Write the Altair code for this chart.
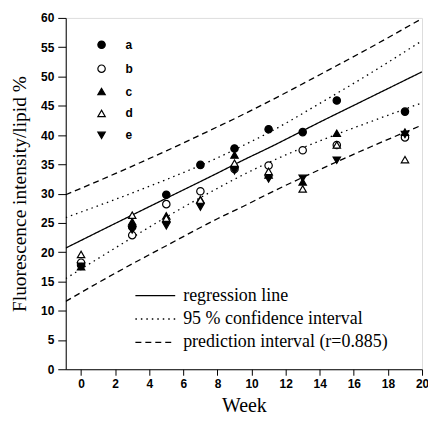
import altair as alt
import pandas as pd

# ---- data ----
weeks = [0, 3, 5, 7, 9, 11, 13, 15, 19]
series_a = [17.8, 24.3, 29.8, 34.9, 37.7, 41.0, 40.5, 45.9, 44.0]
series_b = [18.2, 22.9, 28.2, 30.4, 34.2, 34.8, 37.4, 38.3, 39.6]
series_c = [17.5, 25.2, 26.2, 29.0, 36.6, 33.2, 32.0, 40.3, 40.5]
series_d = [19.6, 26.3, 25.8, 28.9, 35.2, 33.8, 30.8, 38.3, 35.8]
series_e = [17.6, 23.8, 24.5, 27.7, 33.9, 32.5, 32.6, 35.7, 40.1]
series_names = ["a", "b", "c", "d", "e"]

band_weeks = [-0.9, 2, 5, 8, 9.5, 11, 14, 17, 20]
regression = [20.7, 24.9, 29.2, 33.5, 35.7, 37.8, 42.2, 46.5, 50.8]
ci_upper = [25.9, 29.0, 32.4, 36.1, 38.2, 40.4, 45.4, 50.6, 56.1]
ci_lower = [15.5, 20.7, 26.0, 30.9, 33.2, 35.3, 39.0, 42.3, 45.5]
pi_upper = [29.8, 33.4, 37.3, 41.4, 43.5, 45.7, 50.3, 55.0, 59.9]
pi_lower = [11.6, 16.4, 21.1, 25.7, 27.8, 30.0, 34.1, 38.0, 41.7]
line_kinds = ["regression line", "95 % confidence interval", "prediction interval (r=0.885)"]

x_ticks = list(range(0, 21, 2))
y_ticks = list(range(0, 61, 5))

# ---- tables ----
pts = []
for name, vals in zip(series_names, [series_a, series_b, series_c, series_d, series_e]):
    for w, v in zip(weeks, vals):
        pts.append({"week": w, "value": v, "series": name})
pts = pd.DataFrame(pts)

lines = []
for kind, part, vals in [
    (line_kinds[0], "reg", regression),
    (line_kinds[1], "ciu", ci_upper),
    (line_kinds[1], "cil", ci_lower),
    (line_kinds[2], "piu", pi_upper),
    (line_kinds[2], "pil", pi_lower),
]:
    for w, v in zip(band_weeks, vals):
        lines.append({"week": w, "value": v, "kind": kind, "part": part})
lines = pd.DataFrame(lines)

xscale = alt.Scale(domain=[-0.9, 20], nice=False, zero=False)
yscale = alt.Scale(domain=[0, 60], nice=False)

xaxis = alt.Axis(values=x_ticks, title="Week", grid=False, tickSize=6, labelPadding=3,
                 labelFont="Liberation Sans", labelFontWeight="bold", labelFontSize=12,
                 labelColor="black", titleFont="Liberation Serif", titleFontSize=20,
                 titleFontWeight="normal", titleColor="black", titlePadding=6,
                 domainColor="black", tickColor="black", labelFlush=False,
                 labelOverlap=False, labelBound=False)
yaxis = alt.Axis(values=y_ticks, title="Fluorescence intensity/lipid %", grid=False,
                 tickSize=8, labelPadding=4, labelFont="Liberation Sans",
                 labelFontWeight="bold", labelFontSize=12, labelColor="black",
                 titleFont="Liberation Serif", titleFontSize=19.5, titleFontWeight="normal",
                 titleColor="black", titlePadding=11, domainColor="black",
                 tickColor="black", labelFlush=False, labelOverlap=False)

line_layer = alt.Chart(lines).mark_line(color="black", strokeWidth=1.3, clip=True,
                                        interpolate="monotone").encode(
    x=alt.X("week:Q", scale=xscale, axis=xaxis),
    y=alt.Y("value:Q", scale=yscale, axis=yaxis),
    strokeDash=alt.StrokeDash(
        "kind:N",
        scale=alt.Scale(domain=line_kinds, range=[[1, 0], [1.5, 4], [6, 4]]),
        legend=alt.Legend(orient="none", legendX=69, legendY=270, title=None,
                          symbolType="stroke", symbolSize=1600, symbolStrokeWidth=1.3,
                          symbolStrokeColor="black", labelFont="Liberation Serif",
                          labelFontSize=18, labelColor="black", labelOffset=7,
                          clipHeight=18, rowPadding=5.5, padding=0, labelLimit=400),
    ),
    detail="part:N",
    order="week:Q",
)

series_legend = alt.Legend(orient="none", legendX=30, legendY=21, title=None,
                           symbolSize=55, symbolStrokeColor="black", symbolStrokeWidth=1.2,
                           labelFont="Liberation Sans", labelFontWeight="bold",
                           labelFontSize=12, labelColor="black", labelOffset=18,
                           rowPadding=10, padding=0)

point_layer = alt.Chart(pts).mark_point(size=55, strokeWidth=1.2,
                                        opacity=1, filled=False).encode(
    x=alt.X("week:Q", scale=xscale, axis=xaxis),
    y=alt.Y("value:Q", scale=yscale, axis=yaxis),
    shape=alt.Shape("series:N", scale=alt.Scale(
        domain=series_names,
        range=["circle", "circle", "triangle-up", "triangle-up", "triangle-down"]),
        legend=series_legend),
    fill=alt.Fill("series:N", scale=alt.Scale(
        domain=series_names, range=["black", "white", "black", "white", "black"]),
        legend=series_legend),
    stroke=alt.Stroke("series:N", scale=alt.Scale(
        domain=series_names, range=["black"] * 5), legend=series_legend),
)

chart = alt.layer(line_layer, point_layer).properties(
    width=358, height=353,
    autosize=alt.AutoSizeParams(type="none"),
    padding={"left": 58, "top": 9, "right": 6, "bottom": 46},
).configure_view(stroke="black", strokeWidth=1.6).configure(background="white")

chart.save("out.html", embed_options={"renderer": "svg", "actions": False})
